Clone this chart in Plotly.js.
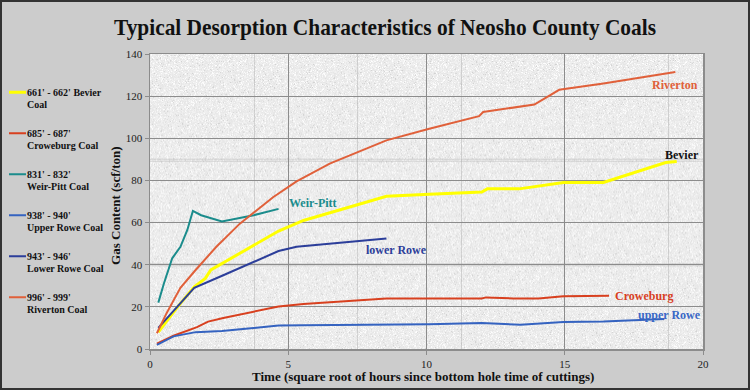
<!DOCTYPE html>
<html>
<head>
<meta charset="utf-8">
<script src="https://cdn.plot.ly/plotly-3.0.1.min.js"></script>
<style>
  html, body { margin: 0; padding: 0; background: #cccccc; }
  #wrap { width: 750px; height: 390px; box-sizing: border-box; border: 2px solid #333333; background: #cccccc; }
  #chart { width: 746px; height: 386px; }
</style>
</head>
<body>
<div id="wrap"><div id="chart"></div></div>
<script>
// ---- Data ----
const bevierX = [0.3, 1.0, 1.6, 2.0, 2.2, 3.25, 4.65, 5.55, 8.55, 10.1, 12.0, 12.2, 13.35, 14.95, 16.4, 18.65, 19.05];
const bevierY = [8, 20, 29.5, 33.5, 37.5, 45.5, 56, 61, 72.5, 73.5, 74.5, 76, 76, 79, 79, 88.5, 89];

const croweburgX = [0.25, 0.85, 1.7, 2.1, 2.65, 3.75, 4.65, 5.55, 8.55, 12.0, 12.15, 13.15, 14.05, 14.95, 16.6];
const croweburgY = [2.5, 6.3, 10.4, 13, 14.7, 17.8, 20.2, 21.3, 24, 24, 24.5, 24, 24, 25, 25.3];

const weirPittX = [0.3, 0.5, 0.8, 1.1, 1.35, 1.55, 1.85, 2.6, 3.75, 4.65];
const weirPittY = [22, 31, 43, 48.5, 56.5, 65.5, 63.5, 60.5, 63.5, 66.5];

const upperRoweX = [0.25, 0.85, 1.65, 2.6, 3.75, 4.65, 5.55, 8.55, 10.1, 12.0, 13.4, 14.95, 16.4, 18.6];
const upperRoweY = [2, 6, 8, 8.5, 10, 11.2, 11.3, 11.5, 11.8, 12.3, 11.5, 12.8, 13.1, 14.2];

const lowerRoweX = [0.3, 1.0, 1.6, 2.65, 3.75, 4.65, 5.3, 8.55];
const lowerRoweY = [10, 20, 29, 35, 41.5, 46.5, 48.5, 52.5];

const rivertonX = [0.25, 0.6, 1.1, 1.65, 2.4, 3.25, 4.45, 5.3, 6.5, 8.55, 10.1, 11.9, 12.05, 13.9, 14.8, 16.4, 19.0];
const rivertonY = [7.5, 17, 29, 37.5, 48.5, 59.5, 72, 79.5, 88, 99, 104.5, 110.5, 112.5, 116, 123, 126, 131.5];

const legendNames = [
  "661' - 662' Bevier<br>Coal",
  "685' - 687'<br>Croweburg Coal",
  "831' - 832'<br>Weir-Pitt Coal",
  "938' - 940'<br>Upper Rowe Coal",
  "943' - 946'<br>Lower Rowe Coal",
  "996' - 999'<br>Riverton Coal"
];
const labelTexts = ["Bevier", "Croweburg", "Weir-Pitt", "upper Rowe", "lower Rowe", "Riverton"];
const labelX = [19.25, 17.85, 5.9, 18.8, 8.9, 19.0];
const labelY = [92, 25.3, 69.5, 16.3, 47.1, 125.3];
const xTickVals = [0, 5, 10, 15, 20];
const yTickVals = [0, 20, 40, 60, 80, 100, 120, 140];

const titleText = "Typical Desorption Characteristics of Neosho County Coals";
const xTitle = "Time (square root of hours since bottom hole time of cuttings)";
const yTitle = "Gas Content (scf/ton)";

// ---- Styles ----
const lineColors = ["#ffff00", "#d8401f", "#1b8c8c", "#3563c0", "#2c3e9a", "#e0603a"];
const labelColors = ["#111111", "#d8401f", "#1b8c8c", "#3a68c6", "#2c3e9a", "#e0603a"];
const lineWidths = [3, 2, 2, 2, 2, 2];
const serif = "Liberation Serif, Times New Roman, serif";

const xs = [bevierX, croweburgX, weirPittX, upperRoweX, lowerRoweX, rivertonX];
const ys = [bevierY, croweburgY, weirPittY, upperRoweY, lowerRoweY, rivertonY];

const traces = xs.map((x, i) => ({
  type: "scatter",
  mode: "lines",
  x: x,
  y: ys[i],
  name: legendNames[i],
  legendgroup: "g" + i,
  line: { color: lineColors[i], width: lineWidths[i] },
  hoverinfo: "x+y"
}));

const annotations = labelTexts.map((t, i) => ({
  x: labelX[i], y: labelY[i], xref: "x", yref: "y",
  text: t, showarrow: false, xanchor: "center", yanchor: "middle",
  font: { family: serif, size: 12, color: labelColors[i], weight: "bold" }
}));
// axis titles placed as paper-referenced annotations
annotations.push({
  x: 0.493, y: -0.093, xref: "paper", yref: "paper", text: xTitle, showarrow: false,
  xanchor: "center", yanchor: "middle",
  font: { family: serif, size: 13, color: "#111111", weight: "bold" }
});
annotations.push({
  x: -0.0615, y: 0.485, xref: "paper", yref: "paper", text: yTitle, showarrow: false,
  xanchor: "center", yanchor: "middle", textangle: -90,
  font: { family: serif, size: 13, color: "#111111", weight: "bold" }
});

// ---- Background texture for the plot area (decorative) ----
function makeTexture(w, h) {
  const c = document.createElement("canvas");
  c.width = w; c.height = h;
  const ctx = c.getContext("2d");
  const img = ctx.createImageData(w, h);
  let s = 12345;
  function rnd() { s = (s * 1103515245 + 12345) & 0x7fffffff; return s / 0x7fffffff; }
  for (let i = 0; i < w * h; i++) {
    let v = 236 + (rnd() - 0.5) * 14;
    const r = rnd();
    if (r < 0.04) v = 208 + rnd() * 14;
    else if (r > 0.88) v = 249 + rnd() * 6;
    v = Math.max(0, Math.min(255, v));
    img.data[i * 4] = v; img.data[i * 4 + 1] = v; img.data[i * 4 + 2] = v; img.data[i * 4 + 3] = 255;
  }
  ctx.putImageData(img, 0, 0);
  ctx.strokeStyle = "rgba(170,170,170,0.45)";
  ctx.lineWidth = 1;
  const tw = 103.5, th = 105;
  for (let x = tw; x < w - 2; x += tw) {
    ctx.beginPath(); ctx.moveTo(Math.round(x) + 0.5, 0); ctx.lineTo(Math.round(x) + 0.5, h); ctx.stroke();
  }
  for (let y = th; y < h - 2; y += th) {
    ctx.beginPath(); ctx.moveTo(0, Math.round(y) + 0.5); ctx.lineTo(w, Math.round(y) + 0.5); ctx.stroke();
    ctx.beginPath(); ctx.moveTo(0, Math.round(y) + 2.5); ctx.lineTo(w, Math.round(y) + 2.5); ctx.stroke();
  }
  return c.toDataURL("image/png");
}

const layout = {
  width: 746, height: 386,
  paper_bgcolor: "#cccccc",
  plot_bgcolor: "rgba(0,0,0,0)",
  margin: { l: 148, r: 45, t: 52, b: 39, autoexpand: false },
  font: { family: serif, color: "#111111" },
  title: {
    text: titleText, xref: "container", yref: "container",
    x: 0.5134, y: 0.935, xanchor: "center", yanchor: "middle",
    font: { family: serif, size: 24, color: "#111111", weight: "bold" }
  },
  xaxis: {
    range: [0, 20], tickvals: xTickVals, ticktext: xTickVals.map(String),
    showgrid: true, gridcolor: "#8c8c8c", gridwidth: 1,
    showline: true, linecolor: "#8c8c8c", linewidth: 1.5, mirror: true,
    ticks: "outside", ticklen: 4, tickcolor: "#8c8c8c", ticklabelstandoff: 0,
    zeroline: false, fixedrange: true, automargin: false,
    tickfont: { family: serif, size: 11, color: "#222222" }
  },
  yaxis: {
    range: [0, 140], tickvals: yTickVals, ticktext: yTickVals.map(String),
    showgrid: true, gridcolor: "#8c8c8c", gridwidth: 1,
    showline: true, linecolor: "#8c8c8c", linewidth: 1.5, mirror: true,
    ticks: "outside", ticklen: 4, tickcolor: "#8c8c8c",
    zeroline: false, fixedrange: true, automargin: false,
    tickfont: { family: serif, size: 11, color: "#222222" }
  },
  showlegend: true,
  legend: {
    xref: "container", yref: "container",
    x: 0.0027, xanchor: "left", y: 0.8, yanchor: "top",
    maxheight: 380,
    bgcolor: "rgba(0,0,0,0)", borderwidth: 0,
    traceorder: "grouped", tracegroupgap: 12, valign: "top",
    font: { family: serif, size: 10, color: "#111111", weight: "bold" }
  },
  annotations: annotations,
  images: [{
    source: makeTexture(553, 296), xref: "paper", yref: "paper",
    x: 0, y: 1, sizex: 1, sizey: 1, xanchor: "left", yanchor: "top",
    sizing: "stretch", layer: "below"
  }]
};

Plotly.newPlot("chart", traces, layout, { displayModeBar: false, staticPlot: true }).then(gd => {
  const t = gd.querySelector(".gtitle");
  if (t) {
    t.setAttribute("textLength", "542");
    t.setAttribute("lengthAdjust", "spacingAndGlyphs");
  }
  // shorter legend swatches, text closer to them, tighter line spacing (as in the reference)
  gd.querySelectorAll(".legend .traces").forEach(tr => {
    tr.querySelectorAll(".legendlines path").forEach(p => p.setAttribute("d", "M5,0h17"));
    const txt = tr.querySelector(".legendtext");
    if (txt) {
      txt.setAttribute("x", "23");
      txt.querySelectorAll("tspan.line").forEach((ts, k) => {
        ts.setAttribute("x", "23");
        if (k > 0) ts.setAttribute("dy", "1.17em");
      });
    }
  });
});
</script>
</body>
</html>
